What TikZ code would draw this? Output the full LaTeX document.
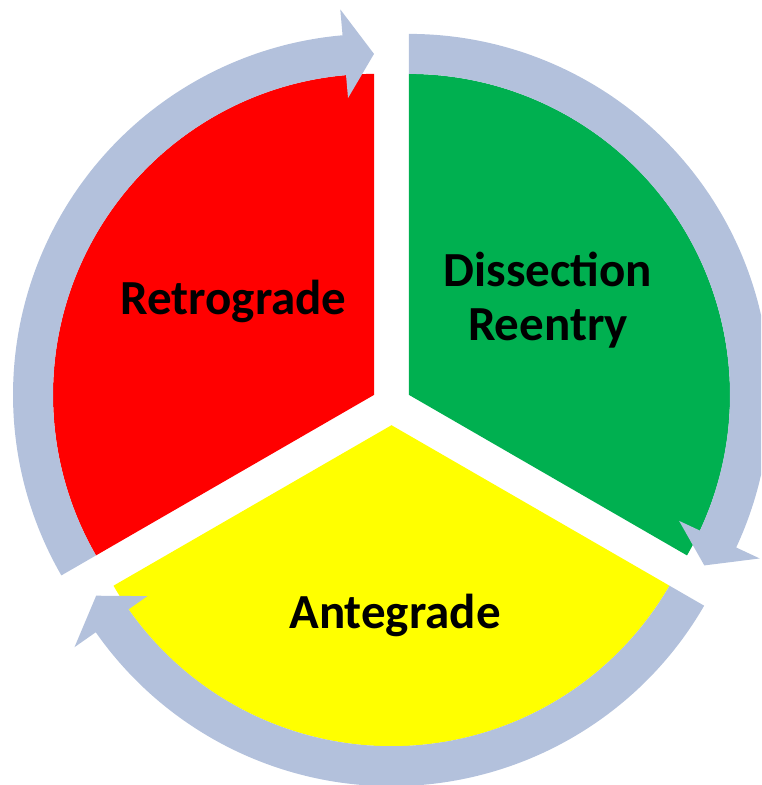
\documentclass[tikz,border=0pt]{standalone}
\usepackage{fontspec}
\setmainfont{Carlito}
\usepackage{tikz}

\definecolor{ringblue}{RGB}{179,193,220}
\definecolor{pptred}{RGB}{255,0,0}
\definecolor{pptgreen}{RGB}{0,176,80}
\definecolor{pptyellow}{RGB}{255,255,0}

\begin{document}
\begin{tikzpicture}[
		x=1pt, y=1pt,
		ring/.style={fill=ringblue},
		lbl/.style={font=\fontsize{49}{54}\selectfont\bfseries, align=center, inner sep=0pt}
		]
		\clip (0,0) rectangle (761,-785);
		% wedges, pulled apart along their middle lines
		\foreach \a/\col in {210/pptred, 90/pptgreen, -30/pptyellow}
		{
			\begin{scope}[shift={(391.5,-405)}, shift={(\a-60:20.2)}]
				\fill[\col] (0,0) -- (\a-120:321) arc[start angle=\a-120, end angle=\a, radius=321] -- cycle;
			\end{scope}
		}
		% curved arrows round the wedges
		\foreach \a in {210, 90, -30}
		{
			\begin{scope}[shift={(391.5,-405)}, shift={(\a-60:20.2)}]
				\fill[ring] (\a:321) arc[start angle=\a, end angle=\a-115, radius=321]
					-- (\a-115:298) -- (\a-120:341) -- (\a-115:387) -- (\a-115:361)
					arc[start angle=\a-115, end angle=\a, radius=361] -- cycle;
			\end{scope}
		}
		\node[lbl, anchor=base] (retro) at (233.5,-314) {Retrograde};
		\node[lbl, anchor=base] (reentry) at (548,-340) {Dissection\\Reentry};
		\node[lbl, anchor=base] (ante) at (395,-628.5) {Antegrade};
\end{tikzpicture}
\end{document}
